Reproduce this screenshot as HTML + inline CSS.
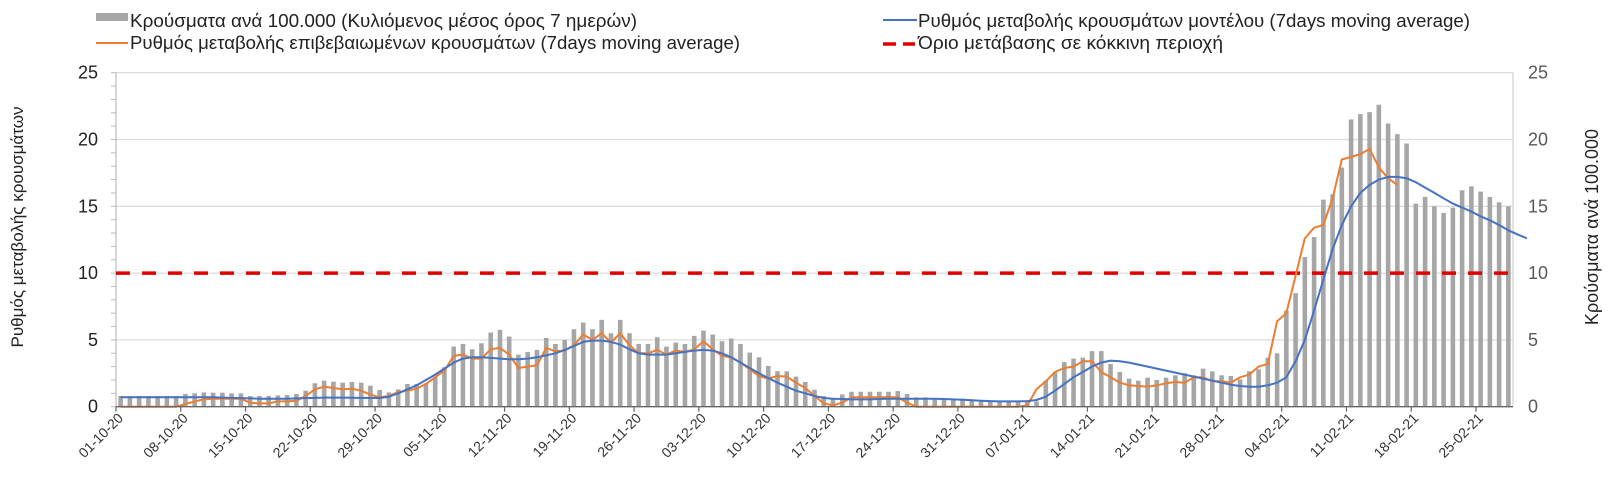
<!DOCTYPE html>
<html><head><meta charset="utf-8"><style>
html,body{margin:0;padding:0;background:#fff;}
svg{display:block;font-family:"Liberation Sans",sans-serif;}
</style></head><body>
<svg id="chart" width="1621" height="486">
<g id="legend">
 <g><rect x="96" y="13" width="32" height="8" fill="#a6a6a6"/><text x="130" y="27" font-size="18" fill="#222" textLength="507" lengthAdjust="spacingAndGlyphs">Κρούσματα ανά 100.000 (Κυλιόμενος μέσος όρος 7 ημερών)</text></g>
 <g><line x1="96" y1="43" x2="128" y2="43" stroke="#ed7d31" stroke-width="2"/><text x="130" y="49" font-size="18" fill="#222" textLength="610" lengthAdjust="spacingAndGlyphs">Ρυθμός μεταβολής επιβεβαιωμένων κρουσμάτων (7days moving average)</text></g>
 <g><line x1="883" y1="20" x2="917" y2="20" stroke="#4472c4" stroke-width="2"/><text x="918" y="27" font-size="18" fill="#222" textLength="552" lengthAdjust="spacingAndGlyphs">Ρυθμός μεταβολής κρουσμάτων μοντέλου (7days moving average)</text></g>
 <g><line x1="883" y1="44" x2="896" y2="44" stroke="#e00000" stroke-width="3.5"/><line x1="903" y1="44" x2="915" y2="44" stroke="#e00000" stroke-width="3.5"/><text x="918" y="49" font-size="18" fill="#222" textLength="305" lengthAdjust="spacingAndGlyphs">Όριο μετάβασης σε κόκκινη περιοχή</text></g>
</g>
<text x="0" y="0" transform="translate(23,227) rotate(-90)" text-anchor="middle" font-size="17" fill="#222">Ρυθμός μεταβολής κρουσμάτων</text>
<text x="0" y="0" transform="translate(1598,227) rotate(-90)" text-anchor="middle" font-size="18" fill="#222">Κρούσματα ανά 100.000</text>
<g id="plot"></g>
</svg>
<script>
const yTicks = [0,5,10,15,20,25];
const xTickLabels = ["01-10-20","08-10-20","15-10-20","22-10-20","29-10-20","05-11-20","12-11-20","19-11-20","26-11-20","03-12-20","10-12-20","17-12-20","24-12-20","31-12-20","07-01-21","14-01-21","21-01-21","28-01-21","04-02-21","11-02-21","18-02-21","25-02-21"];
const threshold = 10;
const cases = [0.8,0.8,0.8,0.8,0.8,0.8,0.8,0.95,1.0,1.07,1.05,1.05,1.0,1.0,0.8,0.8,0.8,0.85,0.87,0.95,1.2,
1.75,1.95,1.87,1.8,1.85,1.8,1.57,1.25,1.07,1.3,1.7,1.7,1.75,2.2,2.95,4.5,4.7,4.3,4.75,5.55,5.75,5.25,3.9,4.1,4.25,5.15,4.7,
5.0,5.8,6.3,5.8,6.5,5.5,6.5,5.5,4.7,4.7,5.2,4.5,4.8,4.7,5.3,5.7,5.4,4.9,5.1,4.7,4.05,3.7,3.05,2.65,2.65,2.25,1.85,1.27,0.8,0.62,0.92,1.12,1.12,1.12,1.12,1.12,1.17,0.95,0.7,0.7,0.65,0.62,0.6,0.6,0.55,0.5,0.45,0.4,0.37,0.37,0.45,0.4,
1.95,2.57,3.34,3.6,3.67,4.16,4.16,3.2,2.6,2.1,1.95,2.17,2.0,2.17,2.35,2.5,2.35,2.85,2.65,2.35,2.3,2.05,2.65,2.8,3.67,4.0,7.2,8.5,11.2,12.7,15.5,15.9,17.9,21.5,21.9,22.05,22.6,21.2,20.4,19.7,15.2,15.7,15.0,14.5,14.9,16.2,16.5,16.1,15.7,15.3,15.0,null];
const confirmedRate = [0,0,0,0,0,0,0,0.2,0.4,0.55,0.6,0.6,0.6,0.6,0.3,0.25,0.25,0.4,0.4,0.45,0.8,
1.3,1.5,1.4,1.3,1.35,1.2,0.9,0.7,0.8,1.1,1.2,1.35,1.7,2.2,2.7,3.8,3.9,3.6,3.6,4.3,4.4,3.9,2.9,3.0,3.1,4.4,4.15,
4.2,4.6,5.4,5.0,5.5,4.8,5.5,4.6,4.0,4.0,4.25,3.9,4.2,4.1,4.3,4.9,4.3,3.8,3.7,3.3,2.8,2.3,2.1,2.3,2.25,1.8,1.4,0.8,0.25,0.1,0.3,0.7,0.7,0.7,0.7,0.7,0.7,0.3,0,0,0,0,0,0,0,0,0,0,0,0,0.1,
1.3,1.9,2.6,2.9,3.0,3.4,3.4,2.6,2.2,1.8,1.6,1.55,1.5,1.6,1.75,1.85,1.8,2.2,2.2,1.9,1.9,1.8,2.2,2.4,3.0,3.2,6.4,7.0,9.8,12.6,13.4,13.6,15.6,18.5,18.7,18.9,19.3,17.9,17.1,16.6,null,null,null,null,null,null,null,null,null,null,null,null];
const modelRate = [0.7,0.7,0.7,0.7,0.7,0.7,0.7,0.7,0.7,0.7,0.7,0.68,0.66,0.64,0.62,0.6,0.6,0.6,0.6,0.62,0.64,
0.66,0.68,0.68,0.68,0.67,0.66,0.65,0.65,0.75,1.0,1.3,1.6,2.0,2.4,2.85,3.3,3.6,3.7,3.7,3.65,3.6,3.55,3.55,3.6,3.7,3.85,4.0,
4.25,4.55,4.85,4.95,4.95,4.85,4.65,4.3,4.0,3.9,3.9,3.9,4.0,4.1,4.2,4.25,4.2,4.0,3.7,3.3,2.9,2.5,2.15,1.8,1.5,1.2,1.0,0.8,0.65,0.6,0.58,0.55,0.55,0.55,0.58,0.6,0.6,0.6,0.6,0.6,0.6,0.58,0.55,0.52,0.48,0.45,0.42,0.4,0.4,0.4,0.42,0.5,0.75,
1.2,1.7,2.2,2.6,3.0,3.3,3.45,3.4,3.3,3.15,3.0,2.85,2.7,2.55,2.4,2.25,2.1,1.95,1.8,1.65,1.55,1.5,1.5,1.6,1.8,2.2,3.4,5.0,7.2,9.5,11.8,13.6,15.0,16.0,16.6,17.0,17.2,17.2,17.1,16.8,16.4,16.0,15.6,15.2,14.9,14.6,14.25,13.95,13.6,13.2,12.9,12.6];

const NS="http://www.w3.org/2000/svg";
const X0=116, X1=1513, Y0=406.7, Y1=72.7, NDAYS=151, YMAX=25;
const xScale = i => X0 + (i+0.5)*(X1-X0)/NDAYS;
const xEdge = i => X0 + i*(X1-X0)/NDAYS;
const yScale = v => Y0 - v*(Y0-Y1)/YMAX;
const plot=document.getElementById('plot');
function mk(tag, attrs, parent){const e=document.createElementNS(NS,tag);for(const k in attrs)e.setAttribute(k,attrs[k]);(parent||plot).appendChild(e);return e;}

yTicks.forEach(v=>{
  if(v>0){const g=mk('line',{x1:X0,x2:X1,y1:yScale(v),y2:yScale(v),stroke:'#dcdcdc','stroke-width':1.3});
  
  }
  const t=mk('text',{x:98,y:yScale(v)+6,'text-anchor':'end','font-size':18,fill:'#222'});t.textContent=v;
  
  
  const r=mk('text',{x:1528,y:yScale(v)+6,'font-size':18,fill:'#595959'});r.textContent=v;
  
  
});
for(let v=0;v<=YMAX;v++){mk('line',{x1:X0-5,x2:X0,y1:yScale(v),y2:yScale(v),stroke:'#bbb','stroke-width':1});}
const la=mk('line',{x1:X0,x2:X0,y1:Y1,y2:Y0,stroke:'#bbb','stroke-width':1.2});


const ra=mk('line',{x1:X1,x2:X1,y1:Y1,y2:Y0,stroke:'#d0d0d0','stroke-width':1.2});



cases.forEach((v,i)=>{ if(v==null) return;
  const b=mk('rect',{x:xScale(i)-2.3,y:yScale(v),width:4.6,height:Y0-yScale(v),fill:'#a6a6a6'});
  
  
});

const th=mk('line',{x1:X0,x2:X1,y1:yScale(threshold),y2:yScale(threshold),stroke:'#e00000','stroke-width':3.5,'stroke-dasharray':'14,12'});



function path(arr){let d='';arr.forEach((v,i)=>{if(v==null)return;d+=(d?'L':'M')+xScale(i).toFixed(1)+','+yScale(v).toFixed(1);});return d;}
const po=mk('path',{d:path(confirmedRate),fill:'none',stroke:'#ed7d31','stroke-width':2,'stroke-linejoin':'round'});


const pb=mk('path',{d:path(modelRate),fill:'none',stroke:'#4472c4','stroke-width':2,'stroke-linejoin':'round'});



const xa=mk('line',{x1:X0,x2:X1,y1:Y0,y2:Y0,stroke:'#666','stroke-width':1.3});


xTickLabels.forEach((lab,k)=>{
  const x=xEdge(k*7);
  mk('line',{x1:x,x2:x,y1:Y0,y2:Y0+5,stroke:'#666','stroke-width':1.2});
  const t=mk('text',{x:0,y:0,transform:`translate(${x+8},${419}) rotate(-45)`,'text-anchor':'end','font-size':14,fill:'#333'});
  t.textContent=lab;
  
  
});
</script>
</body></html>
